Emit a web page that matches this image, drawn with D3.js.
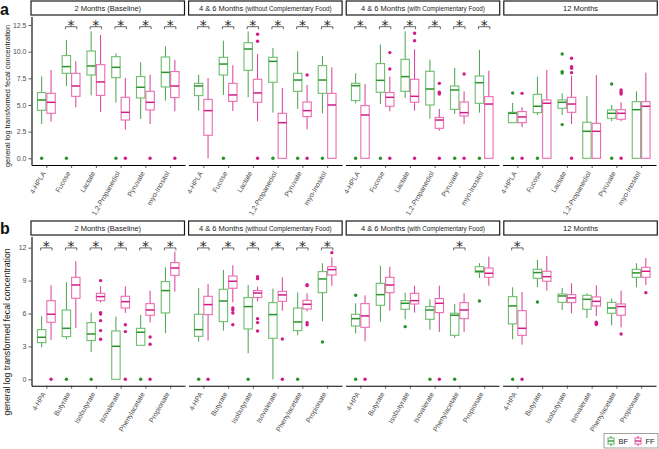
<!DOCTYPE html>
<html><head><meta charset="utf-8">
<script src="https://cdn.jsdelivr.net/npm/d3@7"></script>
<style>body{margin:0;background:#fff} svg{display:block;font-family:"Liberation Sans",Arial,sans-serif}</style>
</head><body><svg id="c" width="659" height="449"></svg>
<script>
// ---------------- DATA ----------------
const facetTitles = [["2 Months (Baseline)", ""], ["4 & 6 Months ", "(without Complementary Food)"], ["4 & 6 Months ", "(with Complementary Food)"], ["12 Months", ""]];
const categoriesA = ["4-HPLA", "Fucose", "Lactate", "1,2-Propanediol", "Pyruvate", "myo-Inositol"];
const categoriesB = ["4-HPA", "Butyrate", "Isobutyrate", "Isovalerate", "Phenylacetate", "Propionate"];
const groups = ["BF", "FF"];
const yTicksA = [0, 2.5, 5, 7.5, 10, 12.5];
const yTicksB = [0, 3, 6, 9, 12];
const yTitle = "general log transformed fecal concentration";

// box stats [lower whisker, Q1, median, Q3, upper whisker] per facet, per category
const statsA_BF = [
  [[3.22,4.5,5.47,6.16,7.69],[6.78,7.97,8.6,9.63,11.1],[5.9,7.81,8.66,10.06,11.9],[5.22,7.56,8.53,9.53,9.84],[3.69,5.66,6.66,7.66,9.0],[5.41,6.69,8.06,9.5,10.5]],
  [[4.47,5.88,6.78,7.03,7.84],[5.94,7.81,8.84,9.47,11.03],[5.72,8.25,10.25,10.84,11.9],[4.28,7.13,9.09,9.47,10.34],[4.63,6.28,7.34,7.97,10.03],[4.22,6.09,7.34,8.69,9.59]],
  [[5.16,5.41,6.81,7.03,7.97],[5.09,6.19,7.31,8.88,10.66],[5.66,6.28,7.66,9.28,11.9],[3.72,5.0,6.5,8.16,9.25],[4.16,4.59,6.41,6.78,8.47],[4.28,5.16,7.09,7.72,10.16]],
  [[3.34,3.34,4.22,4.31,5.19],[4.06,4.28,4.88,6.0,7.66],[4.06,4.69,5.25,5.47,6.09],[0,0,2.53,3.38,5.84],[3.47,3.75,4.22,4.53,5.0],[0,0,4.56,5.31,6.28]]
];
const statsA_FF = [
  [[3.44,4.22,5.25,6.09,8.28],[4.78,5.81,6.78,7.97,9.1],[4.34,5.9,7.16,8.78,11.56],[2.69,3.59,4.31,5.72,7.53],[3.22,4.53,5.25,6.28,7.84],[4.41,5.69,6.78,8.13,9.22]],
  [[0,2.16,4.47,5.53,7.53],[4.44,5.34,5.94,7.03,8.72],[3.47,5.25,6.13,7.41,9.78],[0,0,3.34,4.22,6.59],[2.72,3.91,4.47,5.28,6.88],[0,0,5.0,6.09,8.53]],
  [[0,0,4.06,4.94,6.97],[4.41,4.88,5.72,6.16,7.66],[4.47,5.25,5.81,7.41,10.22],[2.59,2.81,3.59,3.84,4.63],[3.22,3.97,4.28,5.28,6.28],[0,0,5.09,5.78,8.22]],
  [[2.91,3.34,3.88,4.38,4.78],[0,0,5.16,5.47,8.28],[3.22,4.31,5.09,5.72,7.75],[0,0,2.53,3.28,7.81],[3.47,3.66,4.22,4.56,5.25],[0,0,4.88,5.31,8.03]]
];
const outA_BF = [
  [[0],[0],[],[0],[],[]],
  [[],[0],[],[0],[0],[0]],
  [[0],[0],[],[],[0],[0]],
  [[6.13,0],[0],[9.78,8.13,8.0,3.16],[],[6.97,0],[]]
];
const outA_FF = [
  [[],[],[],[0],[0],[0]],
  [[],[],[11.63,10.97,0],[],[7.81,0],[]],
  [[],[9.91,8.38,0],[11.72,11.03,0],[7.03,6.19,6.03,0],[7.91,0],[]],
  [[6.09,0],[],[9.38,8.59,8.44,8.03,0],[],[6.41,6.19,6.03,0],[]]
];
const sigA = [[0,1,1,1,1,1],[1,1,1,1,1,1],[1,1,1,1,1,1],[0,0,0,0,0,0]];

const statsB_BF = [
  [[2.92,3.34,3.83,4.53,5.74],[3.65,3.89,4.65,6.32,8.84],[2.49,3.53,4.13,5.17,6.08],[0,0,3.01,4.41,5.71],[3.1,3.1,4.29,4.65,5.87],[4.22,6.05,8.09,8.91,10.21]],
  [[3.43,3.92,4.53,5.93,8.33],[4.44,5.26,7.14,8.21,9.97],[2.37,4.59,6.63,7.45,8.6],[0,3.74,5.9,6.99,8.27],[4.01,4.44,5.23,6.5,7.93],[5.29,7.9,9.15,9.82,10.58]],
  [[4.19,4.86,5.53,5.93,6.93],[5.26,6.75,7.72,8.75,10.36],[5.47,6.38,6.93,7.17,7.9],[4.5,5.47,6.32,6.63,7.29],[3.77,4.01,5.84,6.02,6.87],[9.24,9.76,9.85,10.27,10.58]],
  [[3.65,5.05,6.69,7.54,8.39],[8.39,9.21,9.73,10.03,10.88],[6.32,7.02,7.6,7.78,8.33],[5.59,6.38,7.29,7.66,7.84],[4.92,6.02,6.5,7.02,7.36],[8.39,9.3,9.7,10.03,10.58]]
];
const statsB_FF = [
  [[3.59,5.2,5.93,7.17,8.57],[4.68,7.39,8.6,9.3,10.76],[7.0,7.17,7.54,7.84,8.48],[6.05,6.5,7.08,7.57,8.48],[5.2,5.84,6.32,6.9,8.09],[7.99,9.48,10.15,10.64,11.64]],
  [[3.53,5.9,6.81,7.57,8.69],[7.02,8.3,8.94,9.42,10.4],[7.11,7.45,7.87,8.09,8.45],[6.26,7.11,7.69,8.02,9.3],[6.2,6.41,6.84,7.2,7.84],[8.54,9.51,10.0,10.27,11.12]],
  [[3.47,4.74,5.78,6.9,7.66],[6.26,7.9,8.6,9.3,10.27],[6.08,6.87,7.17,7.84,8.54],[4.32,6.08,6.93,7.36,8.54],[4.32,5.53,6.32,6.99,7.84],[8.54,9.3,9.67,10.15,11.19]],
  [[3.16,4.01,4.65,6.26,7.96],[8.09,8.94,9.36,9.85,11.25],[6.02,6.99,7.42,7.72,8.75],[5.78,6.69,7.11,7.51,8.57],[4.74,5.84,6.63,6.87,8.09],[8.6,9.3,9.85,10.21,11.06]]
];
const outB_BF = [
  [[],[0],[0],[],[0],[]],
  [[0],[],[0],[],[0],[3.4]],
  [[7.66,0],[],[4.8],[0],[0],[7.14]],
  [[0],[7.05],[],[],[],[]]
];
const outB_FF = [
  [[0],[],[9.0,6.08,5.96,5.35,4.44,3.65],[4.98,4.35,0],[3.86,3.19,0],[]],
  [[0],[6.5,6.32,6.05,4.98],[9.36,9.18,5.53,5.17,4.41],[3.68,0],[8.63,8.54,5.17,4.98],[11.55]],
  [[0],[],[],[0],[],[]],
  [[0],[],[],[5.2,5.1,5.0],[4.13],[7.9]]
];
const sigB = [[1,1,1,1,1,1],[1,1,1,1,1,1],[0,0,0,0,1,0],[1,0,0,0,0,0]];

// ---------------- DRAWING ----------------
const svg = d3.select("#c");
const FX0 = 31.5, FSTRIDE = 157, FW = 153.5;
const col = {BF: {main: "#2b922b", light: "#6dbd6d"}, FF: {main: "#d11b86", light: "#ec6cb2"}};
const axisGray = "#4d4d4d";

function drawPanel(p) {
  const y = d3.scaleLinear().domain(p.yDomain).range(p.yRange);
  const yFull = d3.scaleLinear().domain([y.invert(p.bottom), y.invert(p.top)]).range([p.bottom, p.top]);
  const g = svg.append("g");

  // panel letter
  g.append("text").attr("x", 0).attr("y", p.letterY).attr("font-size", 16).attr("font-weight", "bold")
    .attr("fill", "#111").text(p.letter);

  // y-axis title
  g.append("text").attr("transform", `translate(10,${p.titleY}) rotate(-90)`).attr("text-anchor", "middle")
    .attr("font-size", p.titleSize).attr("fill", "#1a1a1a").text(yTitle);

  // y axis (first facet only)
  const ya = g.append("g").attr("transform", `translate(${FX0},0)`)
    .call(d3.axisLeft(yFull).tickValues(p.ticks).tickFormat(p.fmt).tickSize(3).tickSizeOuter(0).tickPadding(2));
  ya.select(".domain").attr("stroke", "#000").attr("stroke-width", 1.1);
  ya.selectAll(".tick line").attr("stroke", "#333").attr("stroke-width", 0.8);
  ya.selectAll(".tick text").attr("font-size", 7).attr("fill", axisGray).attr("font-family", null);

  facetTitles.forEach((ft, f) => {
    const x0 = FX0 + f * FSTRIDE;
    const x = d3.scalePoint().domain(p.cats).range([x0, x0 + FW]).padding(0.6);
    const step = x.step();
    const dx = d3.scaleBand().domain(groups).range([-0.38 * step, 0.38 * step]);
    const bw = dx.bandwidth();

    // strip
    const sx = 31 + f * 157.6, sw = 153.5;
    g.append("rect").attr("x", sx).attr("y", p.stripY).attr("width", sw).attr("height", 14)
      .attr("fill", "#fff").attr("stroke", "#1a1a1a").attr("stroke-width", 1.2);
    const st = g.append("text").attr("x", sx + sw / 2).attr("y", p.stripY + 10).attr("text-anchor", "middle")
      .attr("font-size", 7.5).attr("fill", "#1a1a1a");
    st.append("tspan").text(ft[0]);
    if (ft[1]) st.append("tspan").attr("font-size", 6.3).text(ft[1]);

    // x axis
    const xa = g.append("g").attr("transform", `translate(0,${p.bottom})`)
      .call(d3.axisBottom(x).tickSize(3).tickSizeOuter(0));
    xa.select(".domain").attr("stroke", "#000").attr("stroke-width", 1.1);
    xa.selectAll(".tick line").attr("stroke", "#333").attr("stroke-width", 0.8);
    xa.selectAll(".tick text").attr("font-size", 7).attr("fill", axisGray).attr("font-family", null)
      .attr("y", 0).attr("dy", "0.35em").attr("text-anchor", "end")
      .attr("transform", "translate(-3,7) rotate(-60)");

    // boxes
    p.cats.forEach((c, i) => {
      groups.forEach(gr => {
        const s = (gr === "BF" ? p.bf : p.ff)[f][i];
        const outs = (gr === "BF" ? p.bfOut : p.ffOut)[f][i];
        const cx = x(c) + dx(gr) + bw / 2;
        const cc = col[gr];
        const bg = g.append("g");
        bg.append("line").attr("x1", cx).attr("x2", cx).attr("y1", y(s[4])).attr("y2", y(s[3]))
          .attr("stroke", cc.main).attr("stroke-width", 1).attr("stroke-opacity", 0.85);
        bg.append("line").attr("x1", cx).attr("x2", cx).attr("y1", y(s[1])).attr("y2", y(s[0]))
          .attr("stroke", cc.main).attr("stroke-width", 1).attr("stroke-opacity", 0.85);
        bg.append("rect").attr("x", cx - bw / 2 + 0.5).attr("width", bw - 1)
          .attr("y", y(s[3])).attr("height", Math.max(0.01, y(s[1]) - y(s[3])))
          .attr("fill", "none").attr("stroke", cc.light).attr("stroke-width", 1.1);
        bg.append("line").attr("x1", cx - bw / 2 + 0.5).attr("x2", cx + bw / 2 - 0.5)
          .attr("y1", y(s[2])).attr("y2", y(s[2])).attr("stroke", cc.main).attr("stroke-width", 1.5);
        bg.selectAll("circle").data(outs).join("circle").attr("cx", cx).attr("cy", d => y(d))
          .attr("r", 1.7).attr("fill", cc.main);
      });
      // significance bracket
      if (p.sig[f][i]) {
        const xl = x(c) + dx("BF") + bw / 2 - 1, xr = x(c) + dx("FF") + bw / 2 + 1;
        const by = y(p.bracketV);
        g.append("path").attr("d", `M${xl},${by + 2.5}V${by}H${xr}V${by + 2.5}`)
          .attr("fill", "none").attr("stroke", "#555").attr("stroke-width", 0.9);
        g.append("text").attr("x", x(c)).attr("y", y(p.starV) + 7.8).attr("text-anchor", "middle")
          .attr("font-family", "DejaVu Sans").attr("font-size", 14).attr("fill", "#2a2a2a").text("*");
      }
    });
  });
}

drawPanel({
  letter: "a", letterY: 14.5, cats: categoriesA, bf: statsA_BF, ff: statsA_FF, bfOut: outA_BF, ffOut: outA_FF, sig: sigA,
  yDomain: [0, 12.5], yRange: [158.3, 25], top: 16.5, bottom: 165, stripY: 1, ticks: yTicksA, fmt: d3.format(".1f"),
  titleY: 96, titleSize: 7.4, bracketV: 12.34, starV: 12.75
});
drawPanel({
  letter: "b", letterY: 233.5, cats: categoriesB, bf: statsB_BF, ff: statsB_FF, bfOut: outB_BF, ffOut: outB_FF, sig: sigB,
  yDomain: [0, 12], yRange: [379.3, 247.7], top: 236.5, bottom: 385.7, stripY: 221, ticks: yTicksB, fmt: d3.format("d"),
  titleY: 332, titleSize: 8.7, bracketV: 11.98, starV: 12.4
});

// legend
const lg = svg.append("g");
lg.append("rect").attr("x", 604).attr("y", 433.5).attr("width", 54).attr("height", 14.5)
  .attr("fill", "#fff").attr("stroke", "#8a8a8a").attr("stroke-width", 0.8);
groups.forEach((gr, k) => {
  const kx = 611 + k * 27, cc = col[gr];
  lg.append("line").attr("x1", kx).attr("x2", kx).attr("y1", 436).attr("y2", 446).attr("stroke", cc.main).attr("stroke-width", 1);
  lg.append("rect").attr("x", kx - 3).attr("y", 438).attr("width", 6).attr("height", 6).attr("fill", "#fff").attr("stroke", cc.light).attr("stroke-width", 1.1);
  lg.append("line").attr("x1", kx - 3).attr("x2", kx + 3).attr("y1", 441).attr("y2", 441).attr("stroke", cc.main).attr("stroke-width", 1.3);
  lg.append("text").attr("x", kx + 7.5).attr("y", 444.3).attr("font-size", 7.5).attr("fill", "#1a1a1a").text(gr);
});
</script></body></html>
